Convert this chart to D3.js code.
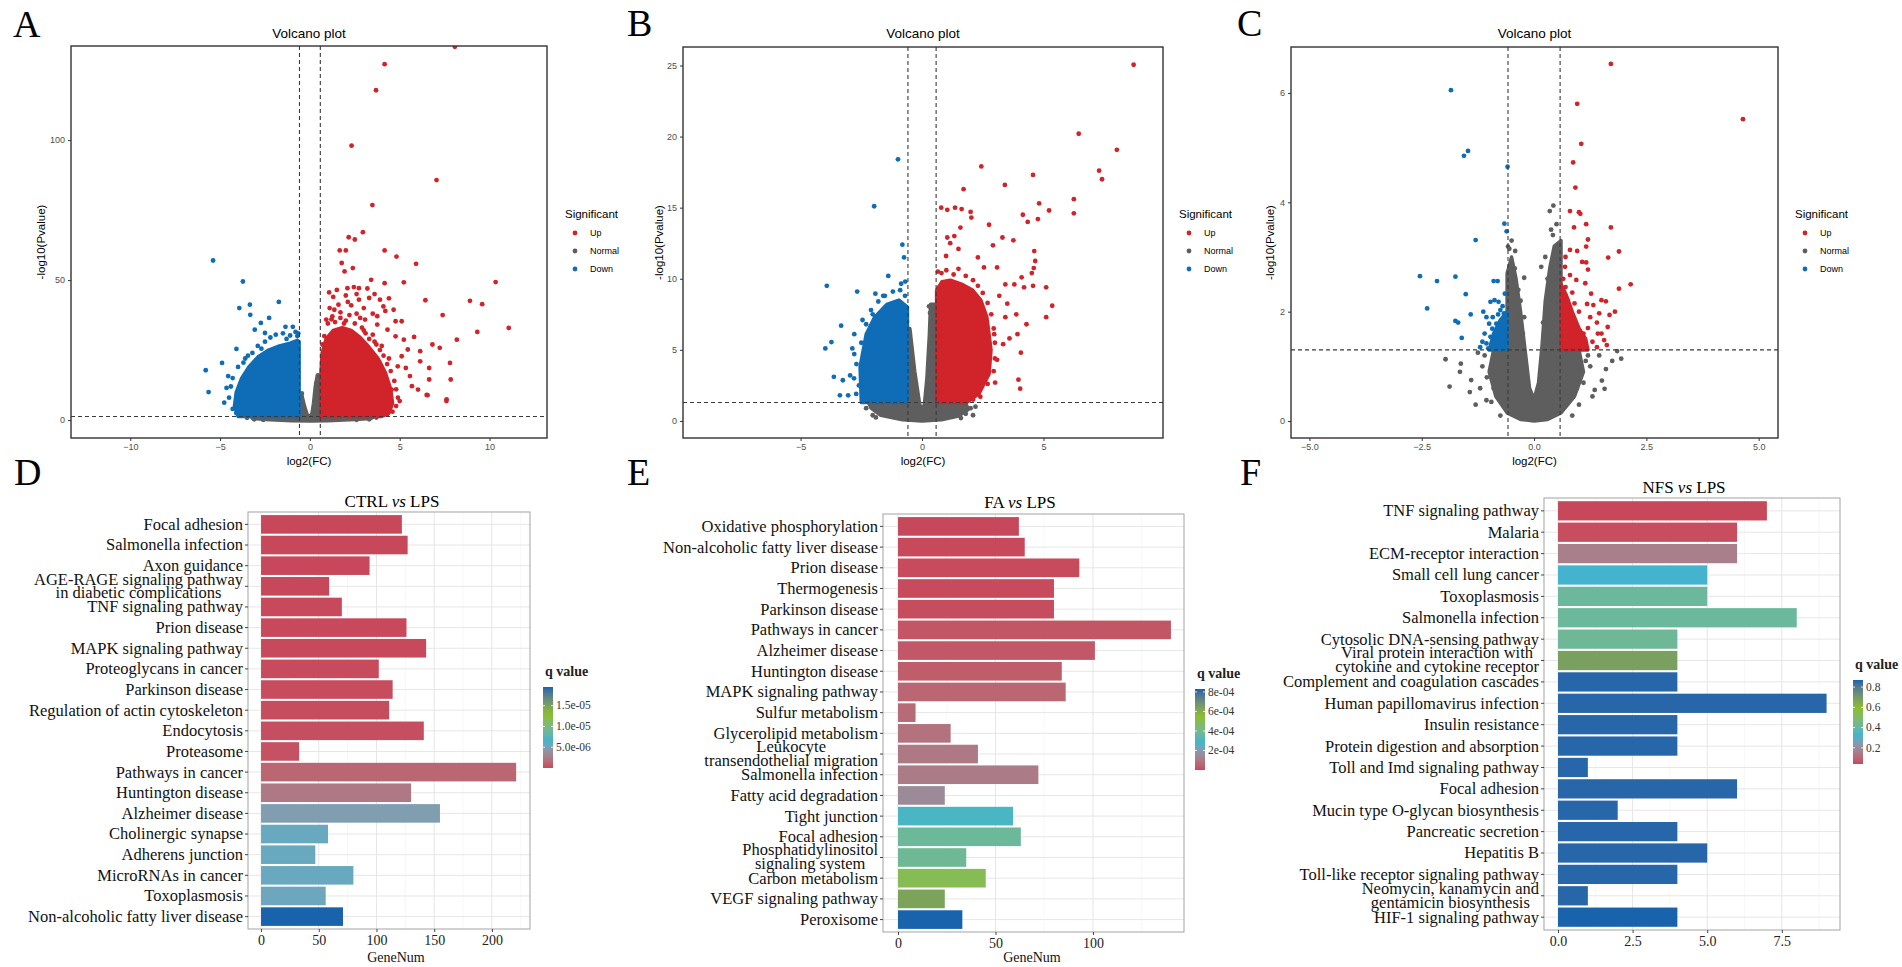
<!DOCTYPE html>
<html><head><meta charset="utf-8">
<script src="https://cdn.jsdelivr.net/npm/d3@7"></script>
<style>body{margin:0;background:#fff}</style>
</head><body>
<script>
// ================= DATA =================
// ---- Volcano A (CTRL vs LPS) ----
const A_xTicks = [-10, -5, 0, 5, 10];
const A_yTicks = [0, 50, 100];
const A_normalPoly = [[-3.3,1.3],[-0.6,1.3],[-0.6,9],[-0.45,9],[-0.3,5],[-0.15,2],[0,1.2],[0.12,2.5],[0.2,6],[0.3,12],[0.4,15.5],[0.6,15.5],[0.6,1.3],[3.6,1.3],[3.4,0.6],[2.5,0.2],[1,-0.2],[0,-0.3],[-1,-0.2],[-2.5,0.2],[-3.2,0.6]];
const A_downPoly = [[-4.0,1.3],[-4.2,5],[-4.1,10],[-3.8,15],[-3.4,19],[-2.9,22.5],[-2.3,25],[-1.7,26.5],[-1.1,27.5],[-0.7,28.5],[-0.6,28],[-0.6,1.3]];
const A_upPoly = [[0.6,1.3],[0.6,15],[0.68,24],[0.9,29],[1.3,32],[1.8,33],[2.3,32],[2.8,29.5],[3.3,26],[3.8,22],[4.2,17],[4.5,11],[4.6,6],[4.4,2.5],[4.0,1.3]];
const A_normalPts = [[-0.45,9.5],[-0.5,8.5],[0.45,16],[0.5,15],[0.35,13],[-3.5,0.8],[-3.1,0.3],[3.7,0.9],[3.3,0.3],[2.6,0.1],[-2.6,0.1]];
const A_downPts = [[-5.39,57.0],[-3.73,49.5],[-3.34,41.2],[-3.93,40.0],[-3.32,37.6],[-1.73,42.2],[-2.27,36.5],[-1.36,33.3],[-0.95,33.3],[-2.5,31.1],[-4.09,25.4],[-4.89,20.4],[-5.8,17.8],[-5.64,10.0],[-4.77,6.2],[-4.64,11.5],[-4.55,15.7],[-3.07,32.3],[-2.73,34.7],[-3.2,24],[-2.9,26.5],[-2.5,28],[-2.2,29.5],[-1.9,30.5],[-1.5,31],[-1.1,30.2],[-0.8,31.5],[-0.7,30],[-3.6,22],[-4.0,19],[-4.3,15],[-4.4,12],[-4.5,8],[-4.3,4],[-4.1,2.5],[-3.9,1.8],[-3.7,20.5],[-3.45,23],[-2.7,25.5],[-1.3,29],[-0.65,31]];
const A_upPts = [[8.07,133.3],[4.16,127.1],[3.68,117.8],[2.32,98.0],[7.05,85.7],[3.48,76.8],[2.95,67.1],[2.16,65.3],[2.5,64.5],[1.66,60.6],[2.0,60.6],[4.16,60.6],[4.82,58.4],[5.91,55.8],[1.77,56.1],[2.39,54.3],[1.93,53.1],[3.41,50.1],[4.16,48.9],[5.23,49.2],[10.34,49.3],[1.07,45.6],[2.09,47.1],[2.45,47.5],[2.73,47.1],[3.3,43.6],[6.43,42.8],[8.91,42.6],[9.59,41.4],[1.59,41.2],[2.11,42.2],[4.66,39.4],[7.39,37.5],[4.77,35.3],[5.11,35.3],[11.07,32.9],[9.32,31.5],[5.8,29.7],[8.18,28.7],[6.82,27.0],[7.23,25.8],[6.14,24.6],[7.8,20.4],[6.64,18.6],[7.84,14.5],[6.64,14.5],[6.55,8.9],[7.61,7.4],[5.0,6.8],[5.34,18.6],[5.57,15.7],[6.14,21.0],[4.09,40.6],[3.75,37.1],[3.07,35.9],[2.73,43.0],[3.75,34.1],[4.32,32.3],[4.77,29.9],[5.23,28.7],[5.45,25.2],[5.11,22.8],[4.89,19.2],[4.55,10.9],[5.68,12.1],[6.02,10.9],[1.25,37],[0.91,35.9],[1.36,39.4],[0.7,27],[0.8,30],[1.0,34.5],[1.2,36],[1.4,35],[1.7,36.5],[2.0,35.5],[2.2,37.5],[2.5,34.5],[2.6,38],[2.9,33],[3.1,31],[3.3,29],[3.5,30.5],[3.7,27],[3.9,25],[4.1,23],[4.3,20],[4.5,17.5],[4.7,14],[4.8,11],[4.9,8],[4.8,5],[4.6,3],[4.3,2],[1.3,44],[1.5,46.5],[2.0,44.5],[2.3,41],[2.6,45],[3.0,40],[3.2,47],[3.6,45],[3.9,43],[4.4,43.5],[4.2,39],[3.5,38],[1.1,40],[1.7,38.5],[6.5,9],[7.6,6.8],[3.0,32],[3.6,28],[4.0,26.5],[4.4,22],[2.8,36.5],[1.9,34.5]];

// ---- Volcano B (FA vs LPS) ----
const B_xTicks = [-5, 0, 5];
const B_yTicks = [0, 5, 10, 15, 20, 25];
const B_normalPoly = [[-2.2,1.3],[-0.6,1.3],[-0.6,6.5],[-0.5,6.5],[-0.3,3.5],[-0.1,1.2],[0,0.7],[0.1,1.2],[0.2,3],[0.3,6],[0.35,8.2],[0.6,8.2],[0.6,1.3],[1.8,1.3],[1.9,0.8],[1.5,0.35],[0.8,0.08],[0,0],[-0.8,0.08],[-1.7,0.4],[-2.1,0.9]];
const B_downPoly = [[-2.5,1.3],[-2.55,3.8],[-2.3,6.1],[-1.95,7.3],[-1.45,8.2],[-0.95,8.5],[-0.6,8.0],[-0.6,1.3]];
const B_upPoly = [[0.6,1.3],[0.6,9.2],[0.82,9.8],[1.16,9.9],[1.66,9.6],[2.08,9.2],[2.42,8.5],[2.67,7.3],[2.84,5.0],[2.76,3.3],[2.34,1.9],[1.83,1.3]];
const B_normalPts = [[-2.03,0.4],[-2.3,0.9],[-2.1,1.1],[1.8,0.5],[2.0,0.9],[2.1,0.4],[1.6,0.2],[0.29,8.06],[0.33,7.6],[-0.62,7],[2.2,1.0],[-1.9,0.25]];
const B_downPts = [[-0.99,18.4],[-1.97,15.1],[-0.81,12.4],[-0.74,11.5],[-1.39,10.2],[-3.92,9.5],[-2.67,9.1],[-1.92,8.95],[-1.53,8.8],[-0.86,9.65],[-0.69,9.8],[-2.03,7.5],[-3.33,6.7],[-3.73,5.55],[-3.98,5.1],[-2.87,5.1],[-2.79,4.7],[-2.96,3.2],[-3.26,2.86],[-3.63,3.1],[-3.38,1.8],[-3.04,1.8],[-2.71,1.9],[-2.79,6.1],[-2.45,7.1],[-2.6,2.5],[-2.7,4],[-2.5,5.5],[-2.3,6.8],[-2.1,7.8],[-1.8,8.4],[-1.6,8.8],[-1.2,9.1],[-0.9,9.2],[-0.7,8.8],[-2.8,3]];
const B_upPts = [[8.71,25.05],[6.45,20.2],[8.02,19.07],[2.44,17.9],[7.29,17.6],[4.57,17.3],[7.41,17.0],[3.41,16.6],[1.71,16.3],[6.25,15.6],[4.82,15.3],[5.23,14.8],[6.25,14.6],[4.15,14.5],[4.35,14.0],[4.77,14.2],[0.79,15.0],[1.04,14.85],[1.36,15.0],[1.63,14.9],[2.0,14.7],[2.03,14.3],[1.58,13.6],[2.76,13.8],[3.31,12.9],[3.76,12.7],[1.04,12.9],[1.33,13.0],[2.92,12.35],[4.62,11.95],[4.66,11.25],[4.6,10.75],[4.52,10.4],[4.1,10.1],[2.3,11.5],[2.55,10.8],[3.09,10.8],[3.43,9.6],[3.8,9.6],[4.2,9.4],[4.57,9.5],[5.11,9.4],[3.18,8.8],[3.51,8.25],[5.36,8.1],[3.88,7.5],[3.43,7.3],[4.3,6.8],[5.11,7.3],[3.93,6.1],[3.6,5.8],[4.07,4.8],[2.97,6.1],[3.34,5.4],[3.09,4.3],[3.97,2.9],[4.04,2.27],[3.01,2.7],[2.3,2.1],[0.99,11.6],[1.16,12.5],[1.5,12.1],[0.65,10.5],[0.8,10.4],[1.0,10.6],[1.3,10.3],[1.5,10.7],[1.8,10.2],[2.1,9.9],[2.3,9.5],[2.5,9.0],[2.7,8.3],[2.85,7.5],[2.95,6.5],[3.0,5.5],[3.0,4.4],[2.95,3.5],[2.7,2.6],[2.4,1.7],[2.1,1.5]];

// ---- Volcano C (NFS vs LPS) ----
const C_xTicks = [-5, -2.5, 0, 2.5, 5];
const C_yTicks = [0, 2, 4, 6];
const C_normalPoly = [[-0.9,1.3],[-0.6,1.3],[-0.6,2.7],[-0.5,3.0],[-0.4,2.6],[-0.3,2.0],[-0.2,1.3],[-0.1,0.6],[0,0.4],[0.1,0.7],[0.18,1.4],[0.25,2.2],[0.35,2.8],[0.45,3.2],[0.6,3.3],[0.6,1.3],[1.0,1.3],[1.1,0.9],[0.9,0.45],[0.6,0.15],[0.3,0.03],[0,0],[-0.3,0.03],[-0.6,0.15],[-0.85,0.45],[-1.0,0.9]];
const C_downPoly = [[-0.6,1.3],[-0.6,2.0],[-0.75,1.85],[-0.9,1.6],[-1.0,1.3]];
const C_upPoly = [[0.6,1.3],[0.6,2.5],[0.72,2.3],[0.85,2.0],[1.0,1.7],[1.15,1.5],[1.2,1.3]];
const C_normalPts = [[0.43,3.94],[0.35,3.84],[-0.42,3.11],[-0.58,3.19],[-0.43,2.79],[-0.22,2.62],[0.16,2.82],[0.25,3.0],[-1.97,1.13],[-1.88,0.63],[-1.63,1.05],[-1.4,0.75],[-1.43,0.53],[-1.65,0.9],[1.85,1.28],[1.94,1.14],[1.74,1.1],[1.35,0.57],[1.57,0.59],[1.51,0.74],[-1.06,0.38],[-0.22,1.9],[-1.3,0.3],[1.45,1.2],[1.6,0.95],[-1.1,1.2],[-1.15,1.0],[-1.05,0.8],[-1.2,0.6],[-0.95,0.35],[1.2,1.2],[1.25,1.0],[1.1,0.7],[1.3,0.45],[1.0,0.3],[0.85,0.1],[-0.75,0.1],[-0.35,2.4],[-0.3,2.2],[0.3,2.6],[0.42,3.4],[0.5,3.6],[0.38,3.5],[-0.5,3.3],[-0.55,3.15],[0.2,1.8],[-0.25,1.6],[-1.25,1.25],[1.15,1.1],[-0.9,0.6],[0.95,0.6]];
const C_downPts = [[-1.85,6.05],[-1.47,4.94],[-1.56,4.85],[-0.59,4.65],[-0.66,3.61],[-0.61,3.47],[-1.3,3.31],[-2.54,2.65],[-2.16,2.56],[-1.75,2.64],[-0.9,2.56],[-0.81,2.56],[-1.52,2.32],[-2.38,2.06],[-1.41,1.95],[-1.75,1.83],[-1.69,1.8],[-1.61,1.52],[-1.13,2.0],[-1.06,1.9],[-0.97,2.18],[-0.88,2.21],[-0.79,2.18],[-0.75,2.03],[-0.67,1.97],[-0.65,2.33],[-1.0,1.78],[-0.93,1.69],[-0.84,1.78],[-0.75,1.66],[-0.65,1.6],[-0.97,1.54],[-0.79,1.51],[-1.06,1.42],[-0.88,1.36],[-0.7,1.39],[-0.65,1.84],[-1.02,1.33],[-0.7,2.1],[-0.8,1.95],[-0.92,1.9],[-1.1,1.6],[-1.15,1.45],[-1.2,1.35]];
const C_upPts = [[1.71,6.53],[0.96,5.8],[4.65,5.52],[1.05,5.07],[0.87,4.73],[0.92,4.27],[0.8,3.84],[1.0,3.82],[1.03,3.79],[0.89,3.54],[1.16,3.6],[1.71,3.54],[1.2,3.32],[1.16,3.19],[1.89,3.1],[0.8,3.13],[0.96,3.11],[1.65,2.99],[1.07,2.91],[1.16,2.9],[1.2,2.77],[0.69,2.82],[0.8,2.67],[0.94,2.58],[2.15,2.5],[1.89,2.42],[1.14,2.52],[1.27,2.33],[1.5,2.21],[1.6,2.19],[1.32,2.12],[1.18,2.14],[1.8,2.0],[1.68,1.94],[1.45,1.97],[1.64,1.72],[1.42,1.6],[1.56,1.48],[1.62,1.39],[0.7,3.0],[1.4,1.8],[1.25,1.9],[0.65,2.6],[0.7,2.45],[0.75,2.2],[0.85,2.35],[0.9,2.15],[1.0,2.0],[0.7,1.9],[0.8,1.75],[1.1,1.6],[1.2,1.7],[1.3,1.45],[1.4,1.35],[1.5,1.6],[0.95,1.45]];

const sigLevels = ["Up", "Normal", "Down"];

// ---- KEGG bar panels ----
const D_categories = ["Focal adhesion","Salmonella infection","Axon guidance","AGE-RAGE signaling pathway\nin diabetic complications","TNF signaling pathway","Prion disease","MAPK signaling pathway","Proteoglycans in cancer","Parkinson disease","Regulation of actin cytoskeleton","Endocytosis","Proteasome","Pathways in cancer","Huntington disease","Alzheimer disease","Cholinergic synapse","Adherens junction","MicroRNAs in cancer","Toxoplasmosis","Non-alcoholic fatty liver disease"];
const D_geneNum = [122,127,94,59,70,126,143,102,114,111,141,33,221,130,155,58,47,80,56,71];
const D_qValue = [1e-10,2e-9,5e-9,1e-8,2e-8,4e-8,6e-8,1e-7,1.5e-7,2e-7,3e-7,4e-7,1.4e-6,2.4e-6,4.8e-6,5.6e-6,5.6e-6,5.6e-6,5.5e-6,1.95e-5];
const D_xTicks = [0,50,100,150,200];
const D_qTicks = [5e-6,1e-5,1.5e-5];
const D_qLabels = ["5.0e-06","1.0e-05","1.5e-05"];

const E_categories = ["Oxidative phosphorylation","Non-alcoholic fatty liver disease","Prion disease","Thermogenesis","Parkinson disease","Pathways in cancer","Alzheimer disease","Huntington disease","MAPK signaling pathway","Sulfur metabolism","Glycerolipid metabolism","Leukocyte\ntransendothelial migration","Salmonella infection","Fatty acid degradation","Tight junction","Focal adhesion","Phosphatidylinositol\nsignaling system","Carbon metabolism","VEGF signaling pathway","Peroxisome"];
const E_geneNum = [62,65,93,80,80,140,101,84,86,9,27,41,72,24,59,63,35,45,24,33];
const E_qValue = [1e-7,2e-6,4e-6,6e-6,8e-6,2.5e-5,3e-5,4e-5,6e-5,7e-5,9e-5,1.05e-4,1.1e-4,1.5e-4,3.0e-4,3.75e-4,3.85e-4,4.95e-4,6.3e-4,8.3e-4];
const E_xTicks = [0,50,100];
const E_qTicks = [2e-4,4e-4,6e-4,8e-4];
const E_qLabels = ["2e-04","4e-04","6e-04","8e-04"];

const F_categories = ["TNF signaling pathway","Malaria","ECM-receptor interaction","Small cell lung cancer","Toxoplasmosis","Salmonella infection","Cytosolic DNA-sensing pathway","Viral protein interaction with\ncytokine and cytokine receptor","Complement and coagulation cascades","Human papillomavirus infection","Insulin resistance","Protein digestion and absorption","Toll and Imd signaling pathway","Focal adhesion","Mucin type O-glycan biosynthesis","Pancreatic secretion","Hepatitis B","Toll-like receptor signaling pathway","Neomycin, kanamycin and\ngentamicin biosynthesis","HIF-1 signaling pathway"];
const F_geneNum = [7,6,6,5,5,8,4,4,4,9,4,4,1,6,2,4,5,4,1,4];
const F_qValue = [0.04,0.05,0.16,0.31,0.41,0.41,0.42,0.68,0.86,0.86,0.86,0.86,0.86,0.86,0.86,0.86,0.86,0.86,0.86,0.87];
const F_xTicks = [0,2.5,5,7.5];
const F_qTicks = [0.2,0.4,0.6,0.8];
const F_qLabels = ["0.2","0.4","0.6","0.8"];

// ================= DRAWING =================
const W = 1902, H = 967;
const SANS = "'Liberation Sans', Arial, Helvetica, sans-serif";
const SERIF = "'Liberation Serif', 'Times New Roman', Times, serif";
const COL = {Up: "#D1232A", Normal: "#5E5E5E", Down: "#0F6DB7"};
const GRAD = ["#C8485B", "#39B5D0", "#8CBE25", "#1863AC"];

const svg = d3.select("body").append("svg").attr("width", W).attr("height", H).style("display", "block");
svg.append("rect").attr("width", W).attr("height", H).attr("fill", "#fff");

function letter(t, x, y) {
  svg.append("text").attr("x", x).attr("y", y).text(t)
    .attr("font-family", SERIF).attr("font-size", 38).attr("fill", "#000");
}

function volcano(cfg) {
  const [x0, x1, y0, y1] = cfg.box;
  const g = svg.append("g");
  const x = d3.scaleLinear().domain(cfg.xdom).range([x0, x1]);
  const y = d3.scaleLinear().domain(cfg.ydom).range([y1, y0]);
  g.append("clipPath").attr("id", "clip" + cfg.id).append("rect")
    .attr("x", x0).attr("y", y0).attr("width", x1 - x0).attr("height", y1 - y0);
  const plot = g.append("g").attr("clip-path", `url(#clip${cfg.id})`);
  const line = d3.line().x(d => x(d[0])).y(d => y(d[1])).curve(d3.curveLinearClosed);
  ["Normal", "Down", "Up"].forEach(k => {
    plot.append("path").attr("d", line(cfg.polys[k]))
      .attr("fill", COL[k]).attr("stroke", COL[k]).attr("stroke-width", 3.5).attr("stroke-linejoin", "round");
    plot.selectAll(null).data(cfg.pts[k]).join("circle")
      .attr("cx", d => x(d[0])).attr("cy", d => y(d[1])).attr("r", 2.4).attr("fill", COL[k]);
  });
  // threshold lines
  const dash = {stroke: "#3a3a3a", "stroke-width": 1.1, "stroke-dasharray": "4,3"};
  [-0.58, 0.58].forEach(v => {
    const l = plot.append("line").attr("x1", x(v)).attr("x2", x(v)).attr("y1", y0).attr("y2", y1);
    Object.entries(dash).forEach(([a, b]) => l.attr(a, b));
  });
  const hl = plot.append("line").attr("x1", x0).attr("x2", x1).attr("y1", y(1.301)).attr("y2", y(1.301));
  Object.entries(dash).forEach(([a, b]) => hl.attr(a, b));
  // border
  g.append("rect").attr("x", x0).attr("y", y0).attr("width", x1 - x0).attr("height", y1 - y0)
    .attr("fill", "none").attr("stroke", "#333").attr("stroke-width", 1.4);
  // axes
  const ax = g.append("g").attr("transform", `translate(0,${y1})`)
    .call(d3.axisBottom(x).tickValues(cfg.xticks).tickSize(3).tickPadding(3).tickFormat(cfg.fmtX));
  const ay = g.append("g").attr("transform", `translate(${x0},0)`)
    .call(d3.axisLeft(y).tickValues(cfg.yticks).tickSize(3).tickPadding(3).tickFormat(cfg.fmtY));
  [ax, ay].forEach(a => {
    a.select(".domain").remove();
    a.selectAll("line").attr("stroke", "#333");
    a.selectAll("text").attr("font-family", SANS).attr("font-size", 9).attr("fill", "#4d4d4d");
  });
  // titles
  g.append("text").attr("x", (x0 + x1) / 2).attr("y", 38).attr("text-anchor", "middle")
    .attr("font-family", SANS).attr("font-size", 13.5).attr("fill", "#000").text("Volcano plot");
  g.append("text").attr("x", (x0 + x1) / 2).attr("y", 465).attr("text-anchor", "middle")
    .attr("font-family", SANS).attr("font-size", 11.5).attr("fill", "#000").text("log2(FC)");
  g.append("text").attr("transform", `translate(${cfg.ytitleX},${(y0 + y1) / 2}) rotate(-90)`)
    .attr("text-anchor", "middle").attr("dy", "0.35em")
    .attr("font-family", SANS).attr("font-size", 11.5).attr("fill", "#000").text("-log10(Pvalue)");
  // legend
  const lg = g.append("g").attr("transform", `translate(${cfg.legendX},0)`);
  lg.append("text").attr("x", 0).attr("y", 218).attr("font-family", SANS).attr("font-size", 11.5)
    .attr("fill", "#000").text("Significant");
  sigLevels.forEach((k, i) => {
    const yy = 233 + i * 18;
    lg.append("circle").attr("cx", 10).attr("cy", yy).attr("r", 2.4).attr("fill", COL[k]);
    lg.append("text").attr("x", 25).attr("y", yy).attr("dy", "0.35em").attr("font-family", SANS)
      .attr("font-size", 9).attr("fill", "#000").text(k);
  });
}

const minusFmt = d => (d < 0 ? "\u2212" : "") + Math.abs(d);
const minusFmt1 = d => (d < 0 ? "\u2212" : "") + Math.abs(d).toFixed(1);

volcano({id: "A", box: [71, 547, 46, 438], xdom: [-13.3, 13.2], ydom: [-6.4, 133.6],
  xticks: A_xTicks, yticks: A_yTicks, fmtX: minusFmt, fmtY: d => d,
  polys: {Normal: A_normalPoly, Down: A_downPoly, Up: A_upPoly},
  pts: {Normal: A_normalPts, Down: A_downPts, Up: A_upPts}, ytitleX: 41, legendX: 565});
volcano({id: "B", box: [683, 1163, 47, 438], xdom: [-9.84, 9.92], ydom: [-1.2, 26.3],
  xticks: B_xTicks, yticks: B_yTicks, fmtX: minusFmt, fmtY: d => d,
  polys: {Normal: B_normalPoly, Down: B_downPoly, Up: B_upPoly},
  pts: {Normal: B_normalPts, Down: B_downPts, Up: B_upPts}, ytitleX: 659, legendX: 1179});
volcano({id: "C", box: [1291, 1778, 47, 438], xdom: [-5.41, 5.43], ydom: [-0.31, 6.84],
  xticks: C_xTicks, yticks: C_yTicks, fmtX: minusFmt1, fmtY: d => d,
  polys: {Normal: C_normalPoly, Down: C_downPoly, Up: C_upPoly},
  pts: {Normal: C_normalPts, Down: C_downPts, Up: C_upPts}, ytitleX: 1270, legendX: 1795});

function barPanel(cfg) {
  const [x0, x1, y0, y1] = cfg.box;
  const g = svg.append("g");
  const x = d3.scaleLinear().domain(cfg.xdom).range([x0, x1]);
  const y = d3.scaleBand().domain(cfg.cats).range([y0, y1]).paddingInner(0.1).paddingOuter(0.15);
  const [qa, qb] = d3.extent(cfg.q);
  const color = d3.scaleLinear().domain([qa, qa + (qb - qa) / 3, qa + 2 * (qb - qa) / 3, qb])
    .range(GRAD).interpolate(d3.interpolateLab);
  // grid
  g.selectAll(null).data(cfg.minor).join("line")
    .attr("x1", d => x(d)).attr("x2", d => x(d)).attr("y1", y0).attr("y2", y1)
    .attr("stroke", "#F2F2F2").attr("stroke-width", 0.6);
  g.selectAll(null).data(cfg.xticks).join("line")
    .attr("x1", d => x(d)).attr("x2", d => x(d)).attr("y1", y0).attr("y2", y1)
    .attr("stroke", "#E6E6E6").attr("stroke-width", 1);
  g.selectAll(null).data(cfg.cats).join("line")
    .attr("x1", x0).attr("x2", x1).attr("y1", d => y(d) + y.bandwidth() / 2).attr("y2", d => y(d) + y.bandwidth() / 2)
    .attr("stroke", "#E6E6E6").attr("stroke-width", 1);
  // bars
  const rows = cfg.cats.map((c, i) => ({c, v: cfg.vals[i], q: cfg.q[i]}));
  g.selectAll(null).data(rows).join("rect")
    .attr("x", x(0)).attr("y", d => y(d.c)).attr("width", d => x(d.v) - x(0)).attr("height", y.bandwidth())
    .attr("fill", d => color(d.q));
  // border
  g.append("rect").attr("x", x0).attr("y", y0).attr("width", x1 - x0).attr("height", y1 - y0)
    .attr("fill", "none").attr("stroke", "#ABABAB").attr("stroke-width", 1.1);
  // x axis
  const ax = g.append("g").attr("transform", `translate(0,${y1})`)
    .call(d3.axisBottom(x).tickValues(cfg.xticks).tickSize(3).tickPadding(3).tickFormat(cfg.fmtX));
  ax.select(".domain").remove();
  ax.selectAll("line").attr("stroke", "#444");
  ax.selectAll("text").attr("font-family", SERIF).attr("font-size", 14).attr("fill", "#222");
  // y axis ticks
  const ay = g.append("g").attr("transform", `translate(${x0},0)`)
    .call(d3.axisLeft(y).tickSize(3).tickFormat(""));
  ay.select(".domain").remove();
  ay.selectAll("line").attr("stroke", "#444");
  // y labels (multi-line labels centered as a block, right aligned)
  const lx = x0 - 5;
  cfg.cats.forEach(c => {
    const lines = c.split("\n");
    const cy = y(c) + y.bandwidth() / 2;
    const t = g.append("text").attr("font-family", SERIF).attr("font-size", 16.5).attr("fill", "#111");
    if (lines.length === 1) {
      t.attr("x", lx).attr("y", cy).attr("dy", "0.33em").attr("text-anchor", "end").text(c);
    } else {
      const sp = cfg.lineSp;
      const spans = lines.map((ln, i) => t.append("tspan").attr("y", cy + (i - (lines.length - 1) / 2) * sp)
        .attr("dy", "0.3em").text(ln));
      const maxW = d3.max(spans, s => s.node().getComputedTextLength());
      spans.forEach(s => s.attr("x", lx - maxW / 2).attr("text-anchor", "middle"));
    }
  });
  // title
  const tt = g.append("text").attr("x", cfg.titleX).attr("y", cfg.titleY).attr("text-anchor", "middle")
    .attr("font-family", SERIF).attr("font-size", 17).attr("fill", "#000");
  tt.append("tspan").text(cfg.title[0] + " ");
  tt.append("tspan").attr("font-style", "italic").text("vs");
  tt.append("tspan").text(" " + cfg.title[1]);
  if (cfg.xTitle) {
    g.append("text").attr("x", cfg.xTitleX).attr("y", 962).attr("text-anchor", "middle")
      .attr("font-family", SERIF).attr("font-size", 14).attr("fill", "#111").text(cfg.xTitle);
  }
  // colorbar
  const [cx0, cx1, cy0, cy1] = cfg.cbar;
  const gid = "grad" + cfg.id;
  const lgd = svg.append("defs").append("linearGradient").attr("id", gid)
    .attr("x1", 0).attr("y1", 1).attr("x2", 0).attr("y2", 0);
  d3.range(0, 1.0001, 0.05).forEach(t => {
    lgd.append("stop").attr("offset", t).attr("stop-color", color(qa + t * (qb - qa)));
  });
  g.append("rect").attr("x", cx0).attr("y", cy0).attr("width", cx1 - cx0).attr("height", cy1 - cy0)
    .attr("fill", `url(#${gid})`);
  const cs = d3.scaleLinear().domain([qa, qb]).range([cy1, cy0]);
  cfg.qTicks.forEach((v, i) => {
    g.append("line").attr("x1", cx0).attr("x2", cx0 + 2).attr("y1", cs(v)).attr("y2", cs(v)).attr("stroke", "#fff").attr("stroke-width", 0.8);
    g.append("line").attr("x1", cx1 - 2).attr("x2", cx1).attr("y1", cs(v)).attr("y2", cs(v)).attr("stroke", "#fff").attr("stroke-width", 0.8);
    g.append("text").attr("x", cx1 + 3).attr("y", cs(v)).attr("dy", "0.33em")
      .attr("font-family", SERIF).attr("font-size", 11.5).attr("fill", "#333").text(cfg.qLabels[i]);
  });
  g.append("text").attr("x", cx0 + 2).attr("y", cy0 - 11).attr("font-family", SERIF)
    .attr("font-size", 14).attr("font-weight", "bold").attr("fill", "#222").text("q value");
}

barPanel({id: "D", box: [248, 530, 512, 929], xdom: [-11.3, 233], cats: D_categories, vals: D_geneNum,
  q: D_qValue, xticks: D_xTicks, minor: [25, 75, 125, 175, 225], fmtX: d => d, lineSp: 12.5,
  title: ["CTRL", "LPS"], titleX: 392, titleY: 507, xTitle: "GeneNum", xTitleX: 396,
  cbar: [543, 553, 687, 768], qTicks: D_qTicks, qLabels: D_qLabels});
barPanel({id: "E", box: [883, 1184, 514, 932], xdom: [-7.7, 146.7], cats: E_categories, vals: E_geneNum,
  q: E_qValue, xticks: E_xTicks, minor: [25, 75, 125], fmtX: d => d, lineSp: 14,
  title: ["FA", "LPS"], titleX: 1020, titleY: 508, xTitle: "GeneNum", xTitleX: 1032,
  cbar: [1195, 1205, 689, 770], qTicks: E_qTicks, qLabels: E_qLabels});
barPanel({id: "F", box: [1544, 1840, 498, 930], xdom: [-0.47, 9.45], cats: F_categories, vals: F_geneNum,
  q: F_qValue, xticks: F_xTicks, minor: [1.25, 3.75, 6.25, 8.75], fmtX: d => d.toFixed(1), lineSp: 14,
  title: ["NFS", "LPS"], titleX: 1684, titleY: 493, xTitle: null,
  cbar: [1853, 1863, 680, 764], qTicks: F_qTicks, qLabels: F_qLabels});

letter("A", 13, 37); letter("B", 627, 36); letter("C", 1237, 36);
letter("D", 14, 485); letter("E", 627, 485); letter("F", 1240, 485);
</script>
</body></html>
